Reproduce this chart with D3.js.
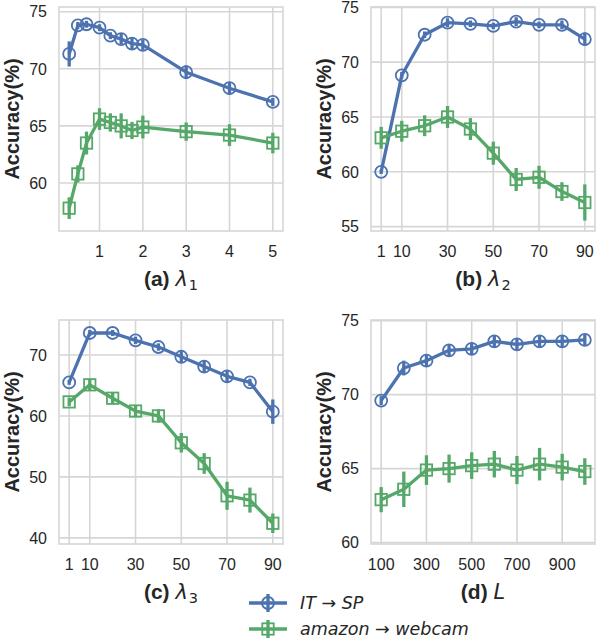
<!DOCTYPE html>
<html>
<head>
<meta charset="utf-8">
<script src="https://cdn.jsdelivr.net/npm/d3@7"></script>
<style>
  body { margin: 0; background: #fff; }
  svg { display: block; }
  .tick-label { font-family: "Liberation Sans", Arial, sans-serif; font-size: 16px; fill: #262626; }
  .axis-label { font-family: "Liberation Sans", Arial, sans-serif; font-size: 21px; font-weight: bold; fill: #262626; }
  .y-label { font-size: 20px; }
  .math { font-family: "DejaVu Sans", sans-serif; font-weight: normal; }
  .legend-text { font-family: "DejaVu Sans", sans-serif; font-size: 17.5px; font-style: italic; fill: #262626; }
</style>
</head>
<body>
<div id="chart"></div>
<script>
// ---- data ----
const lambda1Values = [0.3, 0.5, 0.7, 1, 1.25, 1.5, 1.75, 2, 3, 4, 5];
const itspA    = [71.3, 73.8, 73.9, 73.6, 72.9, 72.6, 72.2, 72.1, 69.7, 68.3, 67.1];
const itspAErr = [1.1, 0.3, 0.3, 0.3, 0.3, 0.45, 0.55, 0.45, 0.6, 0.55, 0.35];
const awA      = [57.8, 60.8, 63.5, 65.6, 65.3, 65.0, 64.6, 64.9, 64.5, 64.2, 63.5];
const awAErr   = [0.95, 0.75, 1.0, 0.95, 0.8, 1.1, 0.75, 1.0, 0.8, 0.95, 0.9];

const lambda2Values = [1, 10, 20, 30, 40, 50, 60, 70, 80, 90];
const itspB    = [60.0, 68.8, 72.5, 73.6, 73.5, 73.3, 73.7, 73.4, 73.4, 72.1];
const itspBErr = [0.2, 0.3, 0.3, 0.4, 0.3, 0.3, 0.4, 0.3, 0.4, 0.6];
const awB      = [63.1, 63.7, 64.2, 65.0, 63.9, 61.7, 59.3, 59.5, 58.2, 57.2];
const awBErr   = [1.0, 0.95, 0.95, 1.0, 1.0, 1.05, 1.05, 1.05, 0.85, 1.65];

const lambda3Values = [1, 10, 20, 30, 40, 50, 60, 70, 80, 90];
const itspC    = [65.5, 73.6, 73.6, 72.4, 71.3, 69.7, 68.1, 66.5, 65.5, 60.7];
const itspCErr = [0.4, 0.5, 0.5, 0.6, 0.6, 0.9, 0.95, 0.95, 0.6, 2.0];
const awC      = [62.3, 65.1, 62.9, 60.8, 60.0, 55.6, 52.2, 46.9, 46.2, 42.4];
const awCErr   = [0.7, 1.0, 0.9, 0.9, 1.1, 1.6, 1.7, 2.3, 2.05, 1.6];

const lValues  = [100, 200, 300, 400, 500, 600, 700, 800, 900, 1000];
const itspD    = [69.6, 71.8, 72.3, 73.0, 73.1, 73.6, 73.4, 73.6, 73.6, 73.7];
const itspDErr = [0.3, 0.5, 0.4, 0.4, 0.4, 0.4, 0.4, 0.4, 0.4, 0.4];
const awD      = [62.9, 63.6, 64.9, 65.0, 65.2, 65.3, 64.9, 65.3, 65.1, 64.8];
const awDErr   = [0.85, 1.2, 1.0, 0.95, 0.9, 0.9, 0.95, 1.1, 0.9, 0.9];

const xTicksA = [1, 2, 3, 4, 5];
const xTicksB = [1, 10, 30, 50, 70, 90];
const xTicksD = [100, 300, 500, 700, 900];
const yTicksA = [60, 65, 70, 75];
const yTicksB = [55, 60, 65, 70, 75];
const yTicksC = [40, 50, 60, 70];
const yTicksD = [60, 65, 70, 75];

const seriesNames = ["IT", "SP", "amazon", "webcam"];

// ---- layout ----
const W = 598, H = 640;
const FRAME = 224;
const BLUE = "#4c72b0", GREEN = "#55a868";
const GRID = "#d6d6d6";
const LINE_W = 3.3, MARK_R = 6, MARK_S = 11.4, MARK_W = 1.8;

const panels = [
  { left: 59,  top: 7,   x: lambda1Values, xDomain: [0.065, 5.235], yDomain: [55.8, 75.41],
    xTicks: xTicksA, yTicks: yTicksA, blue: itspA, blueErr: itspAErr, green: awA, greenErr: awAErr,
    tag: "(a) ", sym: "λ", sub: "1" },
  { left: 371, top: 7,   x: lambda2Values, xDomain: [-3.45, 94.45], yDomain: [54.6, 75.03],
    xTicks: xTicksB, yTicks: yTicksB, blue: itspB, blueErr: itspBErr, green: awB, greenErr: awBErr,
    tag: "(b) ", sym: "λ", sub: "2" },
  { left: 59,  top: 320, x: lambda3Values, xDomain: [-3.45, 94.45], yDomain: [39.0, 75.73],
    xTicks: xTicksB, yTicks: yTicksC, blue: itspC, blueErr: itspCErr, green: awC, greenErr: awCErr,
    tag: "(c) ", sym: "λ", sub: "3" },
  { left: 371, top: 320, x: lValues, xDomain: [55, 1045], yDomain: [59.9, 75.05],
    xTicks: xTicksD, yTicks: yTicksD, blue: itspD, blueErr: itspDErr, green: awD, greenErr: awDErr,
    tag: "(d) ", sym: "L", sub: null }
];

const svg = d3.select("#chart").append("svg")
  .attr("width", W).attr("height", H);

function drawMarker(g, data, cx, cy, color, marker) {
  if (marker === "circle") {
    g.selectAll(null).data(data).join("circle")
      .attr("cx", cx).attr("cy", cy)
      .attr("r", MARK_R)
      .attr("fill", "none").attr("stroke", color).attr("stroke-width", MARK_W);
  } else {
    g.selectAll(null).data(data).join("rect")
      .attr("x", d => cx(d) - MARK_S / 2).attr("y", d => cy(d) - MARK_S / 2)
      .attr("width", MARK_S).attr("height", MARK_S)
      .attr("fill", "none").attr("stroke", color).attr("stroke-width", MARK_W);
  }
}

function drawSeries(g, xs, ys, errs, x, y, color, marker) {
  const pts = xs.map((v, i) => ({ x: v, y: ys[i], e: errs[i] }));
  const line = d3.line().x(d => x(d.x)).y(d => y(d.y));

  g.append("path")
    .attr("d", line(pts))
    .attr("fill", "none")
    .attr("stroke", color)
    .attr("stroke-width", LINE_W)
    .attr("stroke-linejoin", "round");

  g.selectAll(null).data(pts).join("line")
    .attr("x1", d => x(d.x)).attr("x2", d => x(d.x))
    .attr("y1", d => y(d.y - d.e)).attr("y2", d => y(d.y + d.e))
    .attr("stroke", color)
    .attr("stroke-width", LINE_W);

  drawMarker(g, pts, d => x(d.x), d => y(d.y), color, marker);
}

panels.forEach(p => {
  const x = d3.scaleLinear().domain(p.xDomain).range([p.left, p.left + FRAME]);
  const y = d3.scaleLinear().domain(p.yDomain).range([p.top + FRAME, p.top]);
  const g = svg.append("g");

  // grid
  g.selectAll(null).data(p.xTicks).join("line")
    .attr("x1", d => x(d)).attr("x2", d => x(d))
    .attr("y1", p.top).attr("y2", p.top + FRAME)
    .attr("stroke", GRID).attr("stroke-width", 1.6);
  g.selectAll(null).data(p.yTicks).join("line")
    .attr("x1", p.left).attr("x2", p.left + FRAME)
    .attr("y1", d => y(d)).attr("y2", d => y(d))
    .attr("stroke", GRID).attr("stroke-width", 1.6);

  g.append("rect")
    .attr("x", p.left).attr("y", p.top)
    .attr("width", FRAME).attr("height", FRAME)
    .attr("fill", "none").attr("stroke", GRID).attr("stroke-width", 1.6);

  // tick labels
  g.selectAll(null).data(p.xTicks).join("text")
    .attr("class", "tick-label")
    .attr("x", d => x(d)).attr("y", p.top + FRAME + 26)
    .attr("text-anchor", "middle")
    .text(d => d);
  g.selectAll(null).data(p.yTicks).join("text")
    .attr("class", "tick-label")
    .attr("x", p.left - 12).attr("y", d => y(d))
    .attr("dy", "0.36em")
    .attr("text-anchor", "end")
    .text(d => d);

  // axis labels
  g.append("text")
    .attr("class", "axis-label y-label")
    .attr("transform", `translate(${p.left - 40.5},${p.top + FRAME / 2}) rotate(-90)`)
    .attr("text-anchor", "middle")
    .text("Accuracy(%)");

  const xl = g.append("text")
    .attr("class", "axis-label")
    .attr("x", p.left + FRAME / 2).attr("y", p.top + FRAME + 55)
    .attr("text-anchor", "middle");
  xl.append("tspan").text(p.tag);
  xl.append("tspan").attr("class", "math").attr("font-style", "italic").text(p.sym);
  if (p.sub) {
    xl.append("tspan").attr("class", "math")
      .attr("font-size", "14.5px").attr("dy", 4).attr("dx", 1).text(p.sub);
  }

  // data
  const clipId = "clip" + p.tag[1];
  svg.append("clipPath").attr("id", clipId)
    .append("rect").attr("x", p.left).attr("y", p.top).attr("width", FRAME).attr("height", FRAME);
  const dg = g.append("g").attr("clip-path", `url(#${clipId})`);
  drawSeries(dg, p.x, p.blue, p.blueErr, x, y, BLUE, "circle");
  drawSeries(dg, p.x, p.green, p.greenErr, x, y, GREEN, "square");
});

// legend
const legend = svg.append("g");
const legendRows = [
  { color: BLUE, marker: "circle", from: seriesNames[0], to: seriesNames[1], cy: 603, base: 609 },
  { color: GREEN, marker: "square", from: seriesNames[2], to: seriesNames[3], cy: 629, base: 635 }
];
legendRows.forEach(r => {
  legend.append("line")
    .attr("x1", 249).attr("x2", 287).attr("y1", r.cy).attr("y2", r.cy)
    .attr("stroke", r.color).attr("stroke-width", LINE_W);
  legend.append("line")
    .attr("x1", 268).attr("x2", 268).attr("y1", r.cy - 9).attr("y2", r.cy + 9)
    .attr("stroke", r.color).attr("stroke-width", LINE_W);
  drawMarker(legend, [r], () => 268, d => d.cy, r.color, r.marker);
  const t = legend.append("text").attr("class", "legend-text").attr("x", 300).attr("y", r.base);
  t.append("tspan").text(r.from);
  t.append("tspan").attr("font-style", "normal").text(" → ");
  t.append("tspan").text(r.to);
});
</script>
</body>
</html>
